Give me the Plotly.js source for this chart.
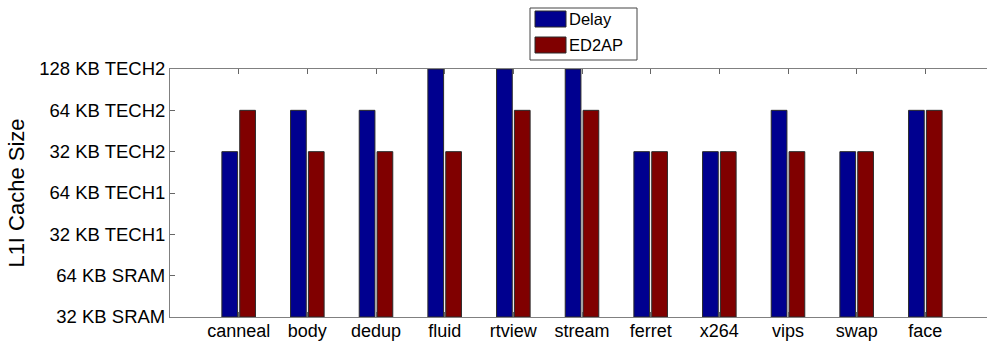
<!DOCTYPE html>
<html>
<head>
<meta charset="utf-8">
<script src="https://cdn.plot.ly/plotly-3.0.1.min.js"></script>
<style>
  html, body { margin: 0; padding: 0; overflow: hidden; background: #fff; }
  #chart { width: 994px; height: 341px; }
</style>
</head>
<body>
<div id="chart"></div>
<script>
// Benchmarks on the x axis
const benchmarks = ["canneal", "body", "dedup", "fluid", "rtview", "stream",
                    "ferret", "x264", "vips", "swap", "face"];

// Ordered cache configurations on the y axis (bottom to top)
const cacheLevels = ["32 KB SRAM", "64 KB SRAM", "32 KB TECH1", "64 KB TECH1",
                     "32 KB TECH2", "64 KB TECH2", "128 KB TECH2"];

// Best L1I configuration per benchmark for each optimisation target
const delayBest = ["32 KB TECH2", "64 KB TECH2", "64 KB TECH2", "128 KB TECH2",
                   "128 KB TECH2", "128 KB TECH2", "32 KB TECH2", "32 KB TECH2",
                   "64 KB TECH2", "32 KB TECH2", "64 KB TECH2"];
const ed2apBest = ["64 KB TECH2", "32 KB TECH2", "32 KB TECH2", "32 KB TECH2",
                   "64 KB TECH2", "64 KB TECH2", "32 KB TECH2", "32 KB TECH2",
                   "32 KB TECH2", "32 KB TECH2", "64 KB TECH2"];

const seriesNames = ["Delay", "ED2AP"];
const seriesColors = ["#00008f", "#800000"];

const toLevel = arr => arr.map(v => cacheLevels.indexOf(v));

const traces = [delayBest, ed2apBest].map((vals, i) => ({
  type: "bar",
  name: seriesNames[i],
  x: benchmarks,
  y: toLevel(vals),
  marker: { color: seriesColors[i], line: { color: "#2a2a2a", width: 1 } },
  hoverinfo: "x+name"
}));

// Hand-drawn legend box (paper coordinates relative to the plot area)
const L = 170, T = 69, W = 824, H = 248;
const px = x => (x - L) / W;
const py = y => (T + H - y) / H;

const shapes = [
  { type: "rect", xref: "paper", yref: "paper",
    x0: px(530), x1: px(637), y0: py(8), y1: py(60),
    line: { color: "#444", width: 1 }, fillcolor: "#fff" },
  { type: "rect", xref: "paper", yref: "paper",
    x0: px(535), x1: px(566), y0: py(11), y1: py(27),
    line: { color: "#2a2a2a", width: 1 }, fillcolor: seriesColors[0] },
  { type: "rect", xref: "paper", yref: "paper",
    x0: px(535), x1: px(566), y0: py(37), y1: py(53),
    line: { color: "#2a2a2a", width: 1 }, fillcolor: seriesColors[1] }
];

const annotations = seriesNames.map((n, i) => ({
  xref: "paper", yref: "paper",
  x: px(567), y: py(i === 0 ? 19 : 45),
  xanchor: "left", yanchor: "middle",
  text: n, showarrow: false,
  font: { family: "Liberation Sans, Arial, sans-serif", size: 16.5, color: "#000" }
}));

const layout = {
  width: 994, height: 341,
  margin: { l: L, r: 0, t: T, b: 341 - T - H, pad: 0 },
  paper_bgcolor: "#fff", plot_bgcolor: "#fff",
  showlegend: false,
  barmode: "group",
  bargap: 0.48,
  bargroupgap: 0.12,
  font: { family: "Liberation Sans, Arial, sans-serif", size: 18, color: "#000" },
  xaxis: {
    type: "category",
    range: [-1, 11],
    showgrid: false, zeroline: false,
    showline: true, linecolor: "#808080", linewidth: 1, mirror: "ticks",
    ticks: "inside", ticklen: 5, tickcolor: "#666",
    ticklabelstandoff: -3,
    tickfont: { size: 18, color: "#000" }
  },
  yaxis: {
    range: [0, 6],
    tickvals: cacheLevels.map((_, i) => i),
    ticktext: cacheLevels,
    showgrid: false, zeroline: false,
    showline: true, linecolor: "#808080", linewidth: 1, mirror: "ticks",
    ticks: "inside", ticklen: 5, tickcolor: "#666",
    tickfont: { size: 18.5, color: "#000" },
    title: { text: "L1I Cache Size", font: { size: 22, color: "#000" }, standoff: 8 }
  },
  shapes: shapes,
  annotations: annotations
};

Plotly.newPlot("chart", traces, layout, { displayModeBar: false, staticPlot: true });
</script>
</body>
</html>
